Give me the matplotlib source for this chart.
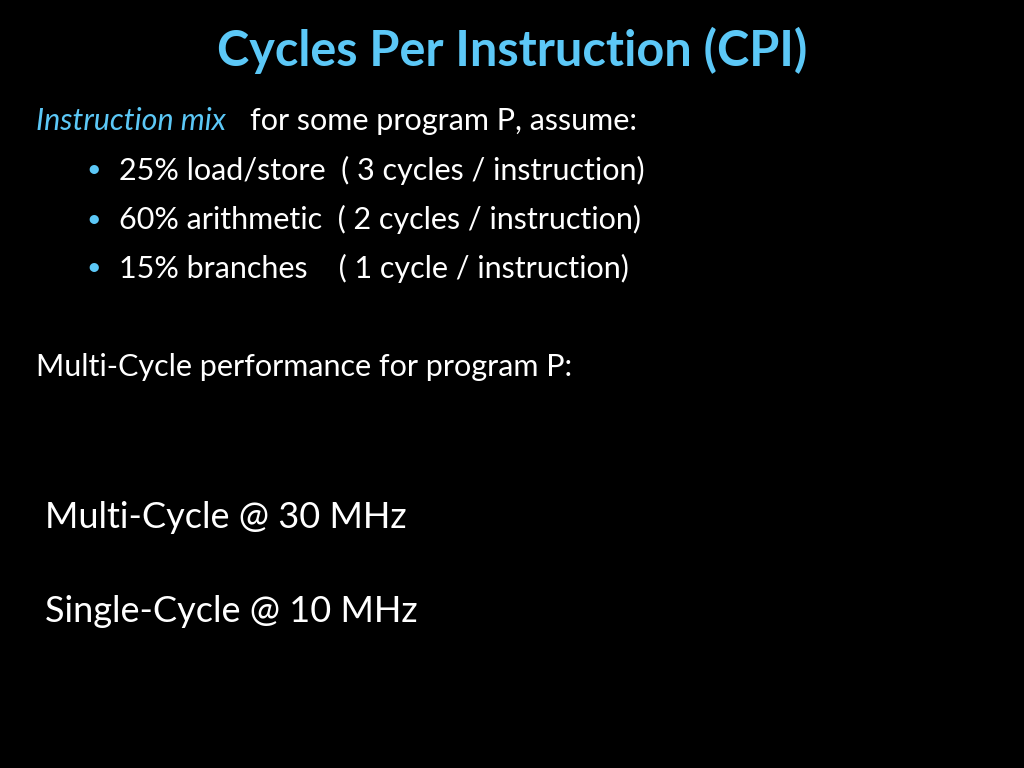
import matplotlib.pyplot as plt

# slide content
title = "Cycles Per Instruction (CPI)"
mix_pct = [25, 60, 15]
mix_names = ["load/store", "arithmetic", "branches"]
mix_cycles = ["3 cycles", "2 cycles", "1 cycle"]
mix_gap = ["  ", "  ", "    "]
clocks = [("Multi-Cycle", 30), ("Single-Cycle", 10)]

BLUE = "#5cc8f7"
FONT = "Lato"

fig = plt.figure(figsize=(10.24, 7.68), dpi=100)
fig.patch.set_facecolor("black")


def px(x, y):
    return x / 1024, 1 - y / 768


fig.text(*px(512, 50), title, color=BLUE, fontsize=35, weight="bold", ha="center",
         va="center", family=FONT)

fig.text(*px(36, 121), "Instruction mix", color=BLUE, fontsize=22, style="italic",
         ha="left", va="center", family=FONT)
fig.text(*px(250, 121), "for some program P, assume:", color="white", fontsize=22,
         ha="left", va="center", family=FONT)

for i, (p, n, c, g) in enumerate(zip(mix_pct, mix_names, mix_cycles, mix_gap)):
    y = 170 + i * 49
    fig.text(*px(86, y), "\u2022", color=BLUE, fontsize=18, ha="left", va="center",
             family=FONT)
    fig.text(*px(119, y), f"{p}% {n}{g}( {c} / instruction)", color="white",
             fontsize=22, ha="left", va="center", family=FONT)

fig.text(*px(36, 367), "Multi-Cycle performance for program P:", color="white",
         fontsize=22, ha="left", va="center", family=FONT)

for i, (name, mhz) in enumerate(clocks):
    y = 517 + i * 95
    fig.text(*px(45, y), f"{name} @ {mhz} MHz", color="white", fontsize=26,
             ha="left", va="center", family=FONT)

fig.savefig("out.png", dpi=100, facecolor="black")
